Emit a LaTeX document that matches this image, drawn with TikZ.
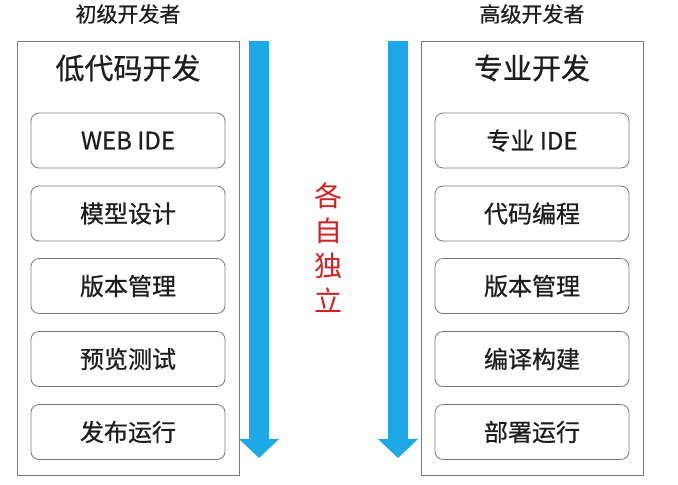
\documentclass[tikz,border=0pt]{standalone}
\usepackage{fontspec}
\setmainfont{Noto Sans CJK SC}[FakeBold=0.7]
\newfontfamily\thincjk{Noto Sans CJK SC}
\usepackage{tikz}
\usetikzlibrary{calc,arrows.meta}
\usepackage{xcolor}
\definecolor{flowblue}{HTML}{1DA9E6}
\definecolor{sepred}{HTML}{D42020}
\definecolor{frame}{HTML}{7A7A7A}
\definecolor{ink}{HTML}{1E1E1E}

\tikzset{
  panel/.style={draw=frame, line width=0.8pt, minimum width=222pt, minimum height=434pt},
  item/.style={draw=frame, line width=0.8pt, rounded corners=8pt, minimum width=194pt,
    minimum height=55pt, text=ink, font=\fontsize{24}{27}\selectfont},
  heading/.style={text=ink, font=\fontsize{29}{33}\selectfont},
  role/.style={text=ink, font=\fontsize{21}{24}\selectfont},
  flow/.style={draw=flowblue, line width=20pt, -{Triangle[width=39pt,length=19pt]}}
}

\begin{document}
\begin{tikzpicture}[x=1pt, y=-1pt, line join=round]
  \useasboundingbox (0,0) rectangle (678,485);

  % Left column: low-code
  \node[role] (lrole) at (128,14) {初级开发者};
  \node[panel] (lpanel) at (128,258) {};
  \node[heading] (lhead) at (128,68) {低代码开发};
  \node[item] (l1) at (128,140.5) {WEB IDE};
  \node[item] (l2) at (128,213.5) {模型设计};
  \node[item] (l3) at (128,286) {版本管理};
  \node[item] (l4) at (128,359) {预览测试};
  \node[item] (l5) at (128,432) {发布运行};

  % Right column: professional
  \node[role] (rrole) at (532,14) {高级开发者};
  \node[panel] (rpanel) at (532,258) {};
  \node[heading] (rhead) at (532,68) {专业开发};
  \node[item] (r1) at (532,140.5) {专业 IDE};
  \node[item] (r2) at (532,213.5) {代码编程};
  \node[item] (r3) at (532,286) {版本管理};
  \node[item] (r4) at (532,359) {编译构建};
  \node[item] (r5) at (532,432) {部署运行};

  % Downward flow arrows
  \coordinate (ltop) at (259,41);
  \coordinate (lend) at (259,458);
  \coordinate (rtop) at (398,41);
  \coordinate (rend) at (398,458);
  \draw[flow] (ltop) -- (lend);
  \draw[flow] (rtop) -- (rend);

  % Middle label
  \node[text=sepred, align=center, font=\thincjk\fontsize{28}{35}\selectfont] (apart) at (328,248)
    {各\\自\\独\\立};
\end{tikzpicture}
\end{document}
